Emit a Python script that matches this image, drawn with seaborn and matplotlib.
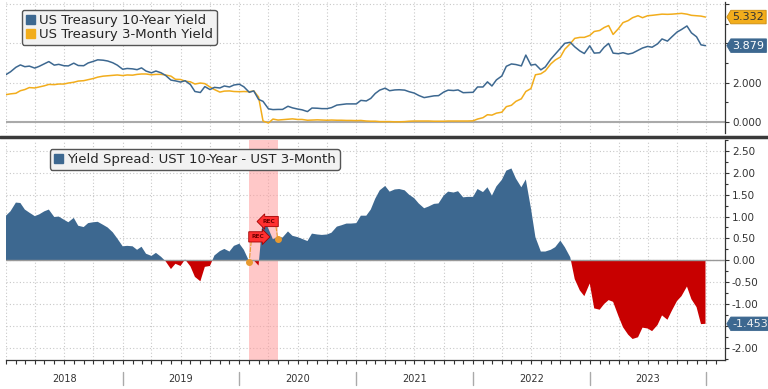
import numpy as np
import pandas as pd
import seaborn as sns
import matplotlib.pyplot as plt
import matplotlib.dates as mdates
from matplotlib.lines import Line2D
from matplotlib.patches import Patch
from matplotlib.path import Path

# observations on the 1st and 15th of each month, last one on 2023-12-29
dates = list(pd.date_range("2018-01-01", "2023-12-15", freq="SMS")) + [pd.Timestamp("2023-12-29")]

ten_year = [
    # 2018
    2.41, 2.55, 2.78, 2.90, 2.81, 2.84, 2.74, 2.83, 2.96, 3.07, 2.89, 2.93,
    2.86, 2.85, 2.99, 2.87, 2.86, 3.00, 3.08, 3.16, 3.14, 3.10, 3.01, 2.89,
    # 2019
    2.68, 2.72, 2.70, 2.66, 2.75, 2.59, 2.50, 2.59, 2.50, 2.37, 2.13, 2.09,
    2.03, 2.10, 1.90, 1.55, 1.50, 1.80, 1.65, 1.76, 1.73, 1.83, 1.78, 1.88,
    # 2020
    1.92, 1.79, 1.51, 1.58, 1.15, 1.05, 0.67, 0.63, 0.64, 0.64, 0.80, 0.72,
    0.66, 0.62, 0.53, 0.71, 0.70, 0.68, 0.68, 0.73, 0.86, 0.89, 0.92, 0.92,
    # 2021
    0.92, 1.10, 1.07, 1.20, 1.45, 1.62, 1.72, 1.59, 1.63, 1.64, 1.62, 1.54,
    1.47, 1.35, 1.24, 1.28, 1.33, 1.34, 1.52, 1.62, 1.60, 1.63, 1.49, 1.50,
    # 2022
    1.51, 1.78, 1.78, 2.04, 1.83, 2.14, 2.34, 2.83, 2.95, 2.92, 2.85, 3.40,
    2.89, 2.93, 2.65, 2.80, 3.19, 3.45, 3.75, 4.00, 4.05, 3.82, 3.61, 3.48,
    # 2023
    3.87, 3.50, 3.52, 3.80, 3.99, 3.50, 3.47, 3.52, 3.45, 3.50, 3.64, 3.76,
    3.84, 3.80, 3.97, 4.22, 4.11, 4.33, 4.57, 4.70, 4.88, 4.53, 4.33, 3.92,
    3.879,
]

three_month = [
    # 2018
    1.39, 1.43, 1.46, 1.59, 1.65, 1.75, 1.73, 1.78, 1.84, 1.91, 1.90, 1.93,
    1.93, 1.98, 2.02, 2.08, 2.10, 2.15, 2.21, 2.28, 2.33, 2.35, 2.37, 2.39,
    # 2019
    2.36, 2.39, 2.38, 2.42, 2.44, 2.44, 2.40, 2.42, 2.42, 2.39, 2.33, 2.17,
    2.16, 2.08, 2.04, 1.93, 1.98, 1.95, 1.78, 1.65, 1.52, 1.57, 1.58, 1.55,
    # 2020
    1.54, 1.55, 1.54, 1.58, 1.27, 0.05, -0.05, 0.15, 0.10, 0.12, 0.14, 0.16,
    0.13, 0.13, 0.09, 0.10, 0.11, 0.10, 0.09, 0.10, 0.09, 0.09, 0.08, 0.08,
    # 2021
    0.07, 0.08, 0.05, 0.04, 0.04, 0.02, 0.02, 0.02, 0.01, 0.01, 0.02, 0.04,
    0.05, 0.05, 0.05, 0.05, 0.04, 0.04, 0.04, 0.05, 0.05, 0.05, 0.05, 0.05,
    # 2022
    0.06, 0.15, 0.22, 0.37, 0.35, 0.45, 0.50, 0.78, 0.85, 1.05, 1.18, 1.55,
    1.70, 2.40, 2.45, 2.60, 2.95, 3.15, 3.30, 3.70, 3.98, 4.25, 4.30, 4.30,
    # 2023
    4.40, 4.60, 4.65, 4.80, 4.90, 4.45, 4.75, 5.05, 5.15, 5.30, 5.40, 5.30,
    5.40, 5.42, 5.45, 5.48, 5.47, 5.48, 5.50, 5.52, 5.48, 5.42, 5.40, 5.38,
    5.332,
]

rec_start = pd.Timestamp("2020-02-01")
rec_end = pd.Timestamp("2020-04-30")

years = ["2018", "2019", "2020", "2021", "2022", "2023"]
top_ticks = [0, 2, 4, 6]
top_labels = ["0.000", "2.000", "", ""]
spread_ticks = [-2.0, -1.5, -1.0, -0.5, 0.0, 0.5, 1.0, 1.5, 2.0, 2.5]
spread_labels = ["-2.00", "", "-1.00", "-0.50", "0.00", "0.50", "1.00", "1.50", "2.00", "2.50"]

df = pd.DataFrame({"date": dates, "ten": ten_year, "three": three_month})
df["spread"] = df["ten"] - df["three"]

blue = "#3d6890"
gold = "#f2ad1c"
red = "#c80000"
grid_c = "#c8c8c8"
ink = "#333333"


def tag_box(x0, y0, width, height, mutation_size):
    # rectangle with a pointed left end, like the last-value tags
    pad = 0.16 * mutation_size
    x0, y0, w, h = x0 - pad, y0 - pad, width + 2 * pad, height + 2 * pad
    tip = 0.3 * h
    verts = [(x0 - tip, y0 + h / 2), (x0, y0 + h), (x0 + w, y0 + h),
             (x0 + w, y0), (x0, y0), (x0 - tip, y0 + h / 2)]
    return Path(verts, closed=True)


sns.set_theme(style="white")
plt.rcParams["font.family"] = ["DejaVu Sans"]

fig = plt.figure(figsize=(7.68, 3.89), dpi=100)
ax1 = fig.add_axes([0.0078, 0.658, 0.9362, 0.337])
ax2 = fig.add_axes([0.0078, 0.0746, 0.9362, 0.5654])

xmin, xmax = pd.Timestamp("2018-01-01"), pd.Timestamp("2024-02-28")

# ---- top panel: yields
ax1.axhline(0, color="#aaaaaa", lw=1.5, zorder=1)
sns.lineplot(data=df, x="date", y="three", ax=ax1, color=gold, lw=1.1, zorder=3)
sns.lineplot(data=df, x="date", y="ten", ax=ax1, color=blue, lw=1.1, zorder=4)
ax1.set_ylim(-0.56, 6.1)
ax1.set_yticks(top_ticks)
ax1.set_yticklabels(top_labels)
ax1.set_yticks([1, 3, 5], minor=True)

# ---- bottom panel: spread
s = df["spread"]
ax2.axvspan(rec_start, rec_end, color="#ff9c9c", alpha=0.55, lw=0, zorder=1)
ax2.fill_between(df["date"], 0, s, where=s >= 0, interpolate=True, color=blue, lw=0, zorder=2)
ax2.fill_between(df["date"], 0, s, where=s < 0, interpolate=True, color=red, lw=0, zorder=2)
ax2.axhline(0, color="#999999", lw=1, zorder=3)
ax2.set_ylim(-2.28, 2.75)
ax2.set_yticks(spread_ticks)
ax2.set_yticklabels(spread_labels)
ax2.set_yticks(np.arange(-2.25, 2.76, 0.5), minor=True)

for ax in (ax1, ax2):
    ax.set_xlim(xmin, xmax)
    ax.set_xlabel("")
    ax.set_ylabel("")
    ax.xaxis.set_major_locator(mdates.MonthLocator(bymonth=[1, 4, 7, 10]))
    ax.xaxis.set_minor_locator(mdates.MonthLocator())
    ax.grid(True, which="major", color=grid_c, ls=(0, (1, 2)), lw=0.8)
    ax.set_axisbelow(True)
    ax.yaxis.tick_right()
    for side in ("left", "top"):
        ax.spines[side].set_visible(False)
    ax.spines["right"].set_color(ink)
    ax.spines["right"].set_linewidth(0.9)
    ax.tick_params(axis="y", which="major", right=True, left=False, direction="out",
                   length=3, width=0.8, color=ink, labelsize=7.5, labelcolor=ink, pad=2)
    ax.tick_params(axis="y", which="minor", right=True, left=False, direction="out",
                   length=2, width=0.8, color=ink)

ax1.spines["bottom"].set_visible(False)
ax1.tick_params(axis="x", which="both", bottom=False, labelbottom=False)
ax2.spines["bottom"].set_color(ink)
ax2.spines["bottom"].set_linewidth(0.9)
ax2.tick_params(axis="x", which="both", bottom=True, labelbottom=False, direction="out",
                length=3, width=0.8, color=ink)

# year labels and separators under the axis
xt = ax2.get_xaxis_transform()
for y in years:
    mid = pd.Timestamp(f"{y}-07-02")
    ax2.text(mid, -0.088, y, transform=xt, ha="center", va="center", fontsize=7, color=ink)
    edge = pd.Timestamp(f"{int(y) + 1}-01-01")
    ax2.plot([edge, edge], [-0.055, -0.114], transform=xt, color="#aaaaaa", lw=1, clip_on=False)

# legends
leg_kw = dict(loc="upper left", frameon=True, fancybox=True, framealpha=1, borderaxespad=0,
              facecolor="#f2f2f2", edgecolor="#555555", handlelength=0.7, handleheight=0.7,
              handletextpad=0.3, borderpad=0.3, labelspacing=0.1, fontsize=9.5)
ax1.legend(handles=[Patch(color=blue, label="US Treasury 10-Year Yield"),
                    Patch(color=gold, label="US Treasury 3-Month Yield")],
           bbox_to_anchor=(0.022, 0.94), **leg_kw)
ax2.legend(handles=[Patch(color=blue, label="Yield Spread: UST 10-Year - UST 3-Month")],
           bbox_to_anchor=(0.061, 0.959), **leg_kw)

# last-value tags on the right axis
tag_kw = dict(xycoords=("axes fraction", "data"), textcoords="offset points", ha="left",
              va="center", fontsize=8, annotation_clip=False, zorder=10)
ax1.annotate(f"{three_month[-1]:.3f}", xy=(1.0, three_month[-1]), xytext=(5.5, 0), color=ink,
             bbox=dict(boxstyle=tag_box, fc=gold, ec="#c88a10", lw=0.6), **tag_kw)
ax1.annotate(f"{ten_year[-1]:.3f}", xy=(1.0, ten_year[-1]), xytext=(5.5, 0), color="white",
             bbox=dict(boxstyle=tag_box, fc=blue, ec=blue, lw=0.6), **tag_kw)
ax2.annotate(f"{s.iloc[-1]:.3f}", xy=(1.0, s.iloc[-1]), xytext=(5.5, 0), color="#f0f0f0",
             bbox=dict(boxstyle=tag_box, fc=blue, ec=blue, lw=0.6), **tag_kw)

# recession markers: dot on the spread, dashed stem, red flag
sp = df.set_index("date")["spread"]
flags = ((rec_start, 16, "rarrow", "left", (0, 0)), (rec_end, 11, "larrow", "right", (1, 0)))
for when, rise, shape, ha, rel in flags:
    val = sp.asof(when)
    ax2.plot([when], [val], "o", color="#e89a30", ms=4, zorder=6)
    ax2.annotate("REC", xy=(when, val), xytext=(1.5 if ha == "left" else -1.5, rise),
                 textcoords="offset points", ha=ha, va="bottom", fontsize=4.2,
                 fontweight="bold", color="#700000",
                 bbox=dict(boxstyle=f"{shape},pad=0.45", fc="#ff3030", ec="#a00000", lw=0.6),
                 arrowprops=dict(arrowstyle="-", ls="--", color="#e89a30", lw=0.8,
                                 relpos=rel, shrinkA=0, shrinkB=0),
                 zorder=7)

# dark separator between the panels
fig.add_artist(Line2D([0, 1], [0.648, 0.648], transform=fig.transFigure, color="#3a3a3a", lw=2.5))

fig.savefig("out.png", dpi=100)
